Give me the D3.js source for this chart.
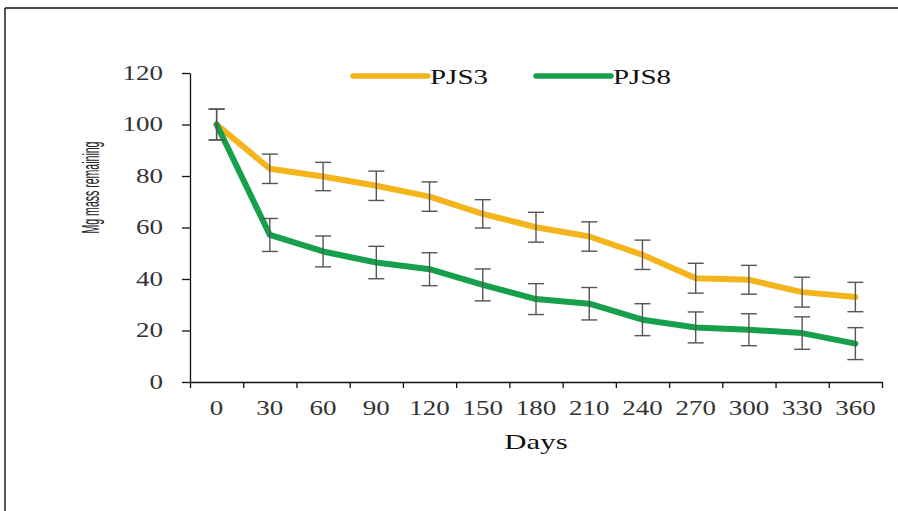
<!DOCTYPE html>
<html>
<head>
<meta charset="utf-8">
<script src="https://cdn.jsdelivr.net/npm/d3@7"></script>
<style>
  body { margin: 0; background: #fff; overflow: hidden; }
  svg { display: block; }
  .tick text { font-family: "Liberation Serif", "Times New Roman", serif; font-size: 20px; fill: #333; }
  .axis path, .axis line { stroke: #111; stroke-width: 1.3; }
</style>
</head>
<body>
<svg id="chart"></svg>
<script>
const days = ["0", "30", "60", "90", "120", "150", "180", "210", "240", "270", "300", "330", "360"];
const pjs3 = [100, 82.8, 79.8, 76.2, 72, 65.3, 60.1, 56.5, 49.4, 40.3, 39.7, 34.9, 33];
const pjs3Err = [6, 5.7, 5.5, 5.7, 5.7, 5.5, 5.8, 5.7, 5.7, 5.8, 5.6, 5.8, 5.7];
const pjs8 = [100, 57.1, 50.7, 46.4, 43.8, 37.7, 32.2, 30.4, 24.2, 21.2, 20.3, 19, 14.9];
const pjs8Err = [6, 6.4, 6, 6.3, 6.4, 6.2, 6, 6.3, 6.2, 6, 6.2, 6.3, 6.2];
const yTicks = [0, 20, 40, 60, 80, 100, 120];

const chartSize = { width: 898, height: 511 };
const plot = { left: 190, right: 882, top: 73, bottom: 382 };
const stretch = 1.35;

const series = [
  { name: "PJS3", values: pjs3, errors: pjs3Err, color: "#F3B51B" },
  { name: "PJS8", values: pjs8, errors: pjs8Err, color: "#17A04B" }
];

const svg = d3.select("#chart")
  .attr("width", chartSize.width)
  .attr("height", chartSize.height);

// outer frame: only the left and top edges are in the picture
svg.append("line")
  .attr("x1", 5).attr("x2", 5).attr("y1", 8).attr("y2", chartSize.height)
  .attr("stroke", "#111").attr("stroke-width", 1.4);
svg.append("line")
  .attr("x1", 5).attr("x2", chartSize.width + 10).attr("y1", 8).attr("y2", 8)
  .attr("stroke", "#111").attr("stroke-width", 1.4);

const x = d3.scaleBand().domain(days).range([plot.left, plot.right]);
const edges = d3.scaleLinear().domain([0, days.length]).range([plot.left, plot.right]);
const y = d3.scaleLinear().domain([0, 120]).range([plot.bottom, plot.top]);

// y axis
const yAxis = svg.append("g")
  .attr("class", "axis y-axis")
  .attr("transform", `translate(${plot.left},0)`)
  .call(d3.axisLeft(y).tickValues(yTicks).tickSize(8).tickSizeOuter(0));
yAxis.selectAll("text")
  .attr("x", 0)
  .attr("transform", `translate(-27,0) scale(${stretch},1)`);

// x axis: tick marks at band edges, labels at band centres
svg.append("g")
  .attr("class", "axis x-ticks")
  .attr("transform", `translate(0,${plot.bottom})`)
  .call(d3.axisBottom(edges).tickValues(d3.range(days.length + 1)).tickFormat("").tickSize(6).tickSizeOuter(0));

const xAxis = svg.append("g")
  .attr("class", "axis x-axis")
  .attr("transform", `translate(0,${plot.bottom})`)
  .call(d3.axisBottom(x).tickSize(0).tickPadding(19));
xAxis.select(".domain").remove();
xAxis.selectAll("text").attr("transform", `scale(${stretch},1)`);

// axis titles
svg.append("text")
  .attr("transform", `translate(${(plot.left + plot.right) / 2},449) scale(1.4,1)`)
  .attr("text-anchor", "middle")
  .style("font-family", '"Liberation Serif", "Times New Roman", serif')
  .style("font-size", "22px")
  .attr("fill", "#111")
  .text("Days");

svg.append("text")
  .attr("transform", "translate(99,187.5) rotate(-90) scale(0.62,1.45)")
  .attr("text-anchor", "middle")
  .style("font-family", '"Liberation Sans", Arial, sans-serif')
  .style("font-size", "17px")
  .attr("fill", "#222")
  .text("Mg mass remaining");

// lines
const line = values => d3.line()
  .x((d, i) => x(days[i]) + x.bandwidth() / 2)
  .y(d => y(d))(values);

series.forEach(s => {
  svg.append("path")
    .attr("class", "line")
    .attr("d", line(s.values))
    .attr("fill", "none")
    .attr("stroke", s.color)
    .attr("stroke-width", 6)
    .attr("stroke-linejoin", "round")
    .attr("stroke-linecap", "round");
});

// error bars
const cap = 8;
series.forEach(s => {
  const g = svg.append("g").attr("class", "errors").attr("stroke", "#555").attr("stroke-width", 1.4);
  s.values.forEach((v, i) => {
    const cx = x(days[i]) + x.bandwidth() / 2;
    const top = y(v + s.errors[i]);
    const bot = y(v - s.errors[i]);
    g.append("line").attr("x1", cx).attr("x2", cx).attr("y1", top).attr("y2", bot);
    g.append("line").attr("x1", cx - cap).attr("x2", cx + cap).attr("y1", top).attr("y2", top);
    g.append("line").attr("x1", cx - cap).attr("x2", cx + cap).attr("y1", bot).attr("y2", bot);
  });
});

// legend
const legend = svg.append("g").attr("class", "legend").attr("transform", "translate(353,76)");
series.forEach((s, i) => {
  const item = legend.append("g").attr("transform", `translate(${i * 183},0)`);
  item.append("line")
    .attr("x1", 0).attr("x2", 75)
    .attr("stroke", s.color).attr("stroke-width", 5.5)
    .attr("stroke-linecap", "round");
  item.append("text")
    .attr("transform", "translate(77,8) scale(1.45,1)")
    .style("font-family", '"Liberation Serif", "Times New Roman", serif')
    .style("font-size", "20px")
    .attr("fill", "#111")
    .text(s.name);
});
</script>
</body>
</html>
